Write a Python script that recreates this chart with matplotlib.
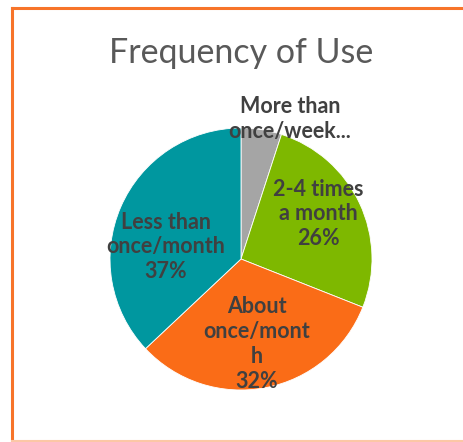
import matplotlib
matplotlib.use("Agg")
import matplotlib.pyplot as plt
from matplotlib.lines import Line2D

categories = ["More than\nonce/week...", "2-4 times\na month", "About\nonce/mont\nh", "Less than\nonce/month"]
values = [5, 26, 32, 37]
show_pct = [False, True, True, True]
colors = ["#A5A5A5", "#7EB800", "#FA6C17", "#00979F"]
label_pos = [(0.374, 1.069), (0.588, 0.344), (0.122, -0.649), (-0.573, 0.092)]

W, H = 464, 442
fig = plt.figure(figsize=(W / 100, H / 100), dpi=100)
ax = fig.add_axes([0, 0, 1, 1])
cx, cy, R = 241, 442 - 259, 131

wedges, _ = ax.pie(values, colors=colors, startangle=90, counterclock=False,
                   radius=1, wedgeprops=dict(edgecolor="white", linewidth=0.6),
                   frame=True)
ax.set_xlim(-cx / R, (W - cx) / R)
ax.set_ylim(-cy / R, (H - cy) / R)
ax.set_aspect("auto")
ax.axis("off")

total = sum(values)
for cat, v, sp, (lx, ly) in zip(categories, values, show_pct, label_pos):
    txt = cat + (f"\n{round(100 * v / total)}%" if sp else "")
    ax.text(lx, ly, txt, ha="center", va="center", fontsize=15.5, fontweight="bold",
            family=["Lato", "DejaVu Sans"], color="#404040", linespacing=1.22)

fig.text(cx / W, 1 - 63 / H, "Frequency of Use", ha="center", va="baseline",
         fontsize=24.5, family=["Lato", "DejaVu Sans"], color="#595959")

# border
def fx(p):
    return p / W
def fy(p):
    return 1 - p / H
fig.add_artist(Line2D([fx(12), fx(12)], [fy(8), fy(440)], color="#F7742A", lw=2.2))
fig.add_artist(Line2D([fx(12), fx(464)], [fy(8), fy(8)], color="#F7742A", lw=2.2))
fig.add_artist(Line2D([fx(12), fx(464)], [fy(440.5), fy(440.5)], color="#FCC7A6", lw=1.5))

fig.savefig("out.png", dpi=100)
